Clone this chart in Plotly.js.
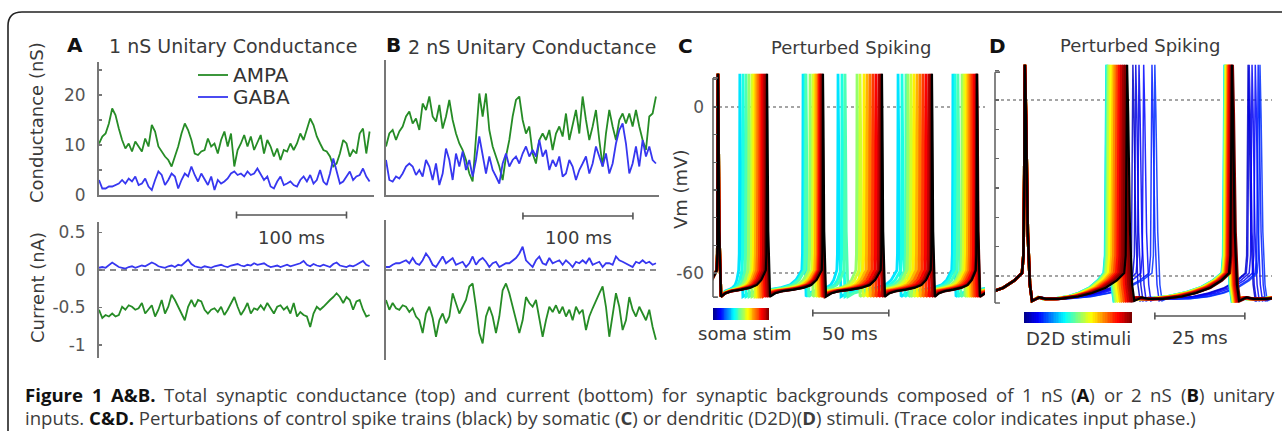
<!DOCTYPE html>
<html><head><meta charset="utf-8">
<script src="https://cdn.plot.ly/plotly-3.0.1.min.js"></script>
<style>html,body{margin:0;padding:0;background:#fff;}#fig{width:1282px;height:431px;}</style>
</head><body><div id="fig"></div>
<script>
// ================= DATA =================
// Panel A (1 nS unitary), sampled every dtA ms
const dtA = 3;
const gAmpaA = [10.3,11.7,12.3,14.3,17.3,16,13.3,11,9.3,10.3, 8.7,10.7,9.7,8.7,11.3,9.7,14,12.7,9.7,8.7, 7.7,7,5.7,7.7,9.7,12.3,14.3,13,11,8.3, 8,8.7,9,11.3,9.7,10.3,8.3,11,12.7,9.7, 12.3,5.7,9,10.3,12,9.7,11.7,9,10.7,12, 8.3,11,9.7,7.7,9.3,7,9,8.7,10.3,9, 10.3,12.3,11,13.3,15.3,14,11.7,10.3,9,8.7, 7.7,5.7,6.3,8.3,11,10.3,7.7,9,8.3,12.3, 13.3,8.3,12.7];
const gGabaA = [3,1.3,1.3,1.7,1.7,2,2.3,3,2.3,3.3, 2.7,3.7,2,2.3,3.3,1.7,1,3,4.7,4, 2,3,4.3,3.7,1.3,3,4.3,3.7,5.7,4, 2.7,4.3,3,2,3.7,1,3,2.3,2.7,3.3, 4.3,4.7,4,4.3,3.7,4.7,4,4.3,5.3,4, 3,3.7,1.7,1.3,2.7,3.7,2,2.3,2.7,2, 1.7,3,3.7,2.7,4,2.3,3,5,2.7,2, 4.3,7.3,4.7,2.3,2.7,3.7,4.7,3,3.7,4, 5.3,3.7,2.7];
const iGabaA = [0.03,0.04,0.03,0.06,0.1,0.07,0.04,0.03,0.02,0.04, 0.05,0.03,0.04,0.06,0.05,0.07,0.1,0.08,0.05,0.04, 0.03,0.05,0.06,0.04,0.07,0.06,0.1,0.14,0.08,0.05, 0.04,0.03,0.05,0.04,0.03,0.05,0.06,0.07,0.05,0.04, 0.06,0.07,0.08,0.06,0.05,0.07,0.06,0.09,0.07,0.08, 0.09,0.06,0.04,0.05,0.06,0.04,0.05,0.07,0.05,0.06, 0.08,0.09,0.12,0.07,0.05,0.08,0.06,0.05,0.07,0.05, 0.04,0.08,0.1,0.06,0.05,0.04,0.06,0.05,0.07,0.1, 0.12,0.07,0.05];
const iAmpaA = [-0.53,-0.64,-0.6,-0.62,-0.58,-0.62,-0.6,-0.49,-0.53,-0.47, -0.49,-0.53,-0.51,-0.44,-0.58,-0.53,-0.47,-0.62,-0.53,-0.4, -0.58,-0.49,-0.33,-0.4,-0.49,-0.6,-0.67,-0.49,-0.4,-0.49, -0.4,-0.42,-0.53,-0.58,-0.53,-0.51,-0.56,-0.49,-0.6,-0.53, -0.44,-0.36,-0.49,-0.6,-0.53,-0.44,-0.58,-0.51,-0.53,-0.47, -0.53,-0.44,-0.51,-0.58,-0.49,-0.47,-0.53,-0.49,-0.58,-0.44, -0.62,-0.56,-0.6,-0.62,-0.76,-0.58,-0.49,-0.53,-0.49,-0.44, -0.4,-0.36,-0.31,-0.36,-0.44,-0.36,-0.4,-0.53,-0.42,-0.4, -0.53,-0.62,-0.6];
// Panel B (2 nS unitary)
const dtB = 3.03;
const gAmpaB = [9.7,12.3,13,11,12.7,13.7,15.7,16.7,14.3,15.3, 13,18.3,17,19.7,15.7,14.7,18,13.3,15.7,19, 15,12.3,10.3,9,7,4.3,2.7,11,20.3,15.7, 20.3,13,9.7,7.7,5.7,3,7.7,11,15.7,19, 19.7,15,12.3,13.7,8.3,6.3,11,12.3,11,13, 9,12.3,13.7,11.7,16.3,11,14.3,17,12.3,19.7, 15,11,13.7,17,11,5.7,12.3,17,13.7,11, 15,16.3,14.3,16.3,13.7,17,13.7,11,9,15.7, 16.3,19.7];
const gGabaB = [7,3,2.7,3.7,3.3,4.3,5.7,6.3,5.7,4, 5,3.7,7,5.7,3,6.3,2,4.3,9.3,7, 3,8.3,5.7,8.7,5,7,3.7,7,11.7,8.3, 4.3,7.7,5,3.7,2.3,6.3,8.3,5.7,7,7.7, 6.3,8.3,9.7,7.7,9,7.7,11,7.7,9,5, 7,5.7,7.7,3.7,4.3,7,5.7,3,5,6.3, 7.7,4.3,6.3,9.7,7.7,5.7,8.3,4.3,6.3,10.3, 13,14.3,10.3,4.3,6.3,9.7,5.7,11,7.7,9.7, 7,6.3];
const iGabaB = [0.04,0.04,0.07,0.09,0.09,0.11,0.13,0.09,0.16,0.09, 0.07,0.13,0.22,0.16,0.07,0.04,0.11,0.18,0.09,0.13, 0.16,0.07,0.09,0.11,0.04,0.09,0.18,0.07,0.13,0.16, 0.11,0.04,0.09,0.11,0.04,0.07,0.09,0.09,0.13,0.16, 0.22,0.31,0.13,0.09,0.04,0.13,0.18,0.09,0.07,0.16, 0.09,0.11,0.13,0.07,0.13,0.09,0.04,0.11,0.09,0.13, 0.09,0.16,0.07,0.09,0.11,0.04,0.09,0.09,0.07,0.18, 0.13,0.11,0.09,0.07,0.04,0.11,0.09,0.13,0.09,0.11, 0.07,0.09];
const iAmpaB = [-0.4,-0.53,-0.44,-0.51,-0.53,-0.47,-0.49,-0.56,-0.51,-0.62, -0.67,-0.84,-0.58,-0.49,-0.64,-0.89,-0.67,-0.58,-0.71,-0.62, -0.31,-0.44,-0.58,-0.49,-0.4,-0.22,-0.18,-0.49,-0.84,-0.98, -0.62,-0.49,-0.62,-0.84,-0.62,-0.27,-0.18,-0.31,-0.49,-0.67, -0.84,-0.67,-0.36,-0.44,-0.49,-0.4,-0.67,-0.89,-0.67,-0.49, -0.56,-0.47,-0.58,-0.49,-0.62,-0.53,-0.67,-0.49,-0.58,-0.53, -0.8,-0.62,-0.51,-0.4,-0.31,-0.22,-0.49,-0.89,-0.62,-0.31, -0.49,-0.8,-0.67,-0.36,-0.53,-0.62,-0.49,-0.58,-0.67,-0.53, -0.76,-0.93];
const legendNames = ['AMPA', 'GABA'];

// Panel C: spike times (ms); control (black) and perturbed traces (phase 0..1)
const cBlackSpikes = [2.6, 34.9, 71.7, 110.5, 143.4, 173.0];
const cPhase = [0.35,0.40,0.45,0.52,0.58,0.64,0.70,0.76,0.82,0.88,0.94,1.00];
const cBand1 = [17,19.1,21.1,23,25,26.3,27.6,28.9,30.3,31.6,32.9,34.2];
const cBand2 = [58.6,59.9,60.5,63.2,65.1,66.4,67.1,68.4,69.1,69.7,70.4,71.1];
const cBand3 = [81.6,84.2,86.2,94.1,96.1,98.7,100.7,102.6,104.6,106.6,108.6,109.9];
const cBand4 = [121.1,123.7,126.3,127.6,129.6,131.6,133.6,135.5,137.5,139.5,141.4,142.8];
const cBand5 = [157.2,158.6,160.5,163.2,164.5,165.8,167.1,168.4,169.7,171.1,172.4,173.0];
// Panel D
const dBlackSpikes = [8.3, 36.7, 65.8];
const dPhaseAdv = [0.35,0.42,0.50,0.56,0.62,0.68,0.74,0.80,0.86,0.92,0.97,1.00];
const dAdvBand1 = [31.0,31.1,31.4,31.7,32.2,32.8,33.3,33.9,34.5,35.1,35.7,36.2];
const dAdvBand2 = [63.8,63.9,64.0,64.1,64.3,64.5,64.7,64.9,65.1,65.4,65.7,66.0];
const dPhaseDel = [0.06,0.09,0.11,0.13,0.15,0.17];
const dDelBand1 = [38.3,39.1,40.0,41.3,43.6,44.4];
const dDelBand2 = [70.3,70.6,71.4,72.3,73.1,73.6];
// waveform shapes (ms after peak, mV)
const spikeT = [-0.8,-0.4,-0.15,0,0.3,0.8,1.4,2.0];
const spikeV = [-59,-53,-25,12,-5,-45,-63,-68.5];
const cIsiF = [0,0.1,0.25,0.45,0.65,0.8,0.9,1];
const cIsiV = [-68.5,-67.3,-66.5,-66,-65.3,-64.3,-62.5,-59];
const dIsiF = [0,0.08,0.15,0.3,0.5,0.65,0.8,0.92,1];
const dIsiV = [-68.5,-67.3,-67.8,-67.8,-67,-65.8,-64,-61.5,-59];
const vmRefLevels = [0, -60];
const vmTicks = [-60,-50,-40,-30,-20,-10,0,10];
const cTickText = ['-60','','','','','','0',''];
const scaleAB = 100, scaleC = 50, scaleD = 25;
const cbarLevels = Array.from({length:64}, (_, i) => i/63);

// ================= HELPERS =================
const W = 1282, H = 431;
const PX = x => x / W, PY = y => 1 - y / H;
const FONT = 'DejaVu Sans';
const jetStops = [[0,[0,0,143]],[0.125,[0,0,255]],[0.375,[0,255,255]],[0.625,[255,255,0]],[0.875,[255,0,0]],[1,[128,0,0]]];
function jet(v){
  for (let k = 1; k < jetStops.length; k++){
    if (v <= jetStops[k][0]){
      const [a, ca] = jetStops[k-1], [b, cb] = jetStops[k];
      const f = (v - a) / (b - a);
      return 'rgb(' + ca.map((c, j) => Math.round(c + (cb[j] - c) * f)).join(',') + ')';
    }
  }
  return 'rgb(128,0,0)';
}
const jetScale = jetStops.map(s => [s[0], 'rgb(' + s[1].join(',') + ')']);

function buildVm(spikes, isiF, isiV, segLen){
  const t = [], v = [];
  const onset = spikeT[0], trough = spikeT[spikeT.length-1];
  const ramp = (a, b) => { for (let k = 0; k < isiF.length; k++){ t.push(a + (b - a) * isiF[k]); v.push(isiV[k]); } };
  ramp(spikes[0] + onset - segLen, spikes[0] + onset);
  spikes.forEach((s, j) => {
    for (let k = 1; k < spikeT.length; k++){ t.push(s + spikeT[k]); v.push(spikeV[k]); }
    const next = j < spikes.length - 1 ? spikes[j+1] + onset : s + trough + segLen;
    ramp(s + trough, next);
  });
  return {t, v};
}

// ================= TRACES =================
const GREEN = 'rgb(38,140,38)', BLUE = 'rgb(55,55,240)';
const LW = 1.8;
const tA = gAmpaA.map((_, i) => i * dtA);
const tB = gAmpaB.map((_, i) => i * dtB);
const traces = [];
const line = (x, y, xa, ya, color) => ({x, y, xaxis:xa, yaxis:ya, type:'scatter', mode:'lines', line:{color, width:LW}, showlegend:false});
traces.push(line(tA, gAmpaA, 'x', 'y', GREEN));
traces.push(line(tA, gGabaA, 'x', 'y', BLUE));
traces.push(line(tA, iGabaA, 'x2', 'y2', BLUE));
traces.push(line(tA, iAmpaA, 'x2', 'y2', GREEN));
traces.push(line(tB, gAmpaB, 'x3', 'y3', GREEN));
traces.push(line(tB, gGabaB, 'x3', 'y3', BLUE));
traces.push(line(tB, iGabaB, 'x4', 'y4', BLUE));
traces.push(line(tB, iAmpaB, 'x4', 'y4', GREEN));

// Panel C
cPhase.forEach((p, i) => {
  const sp = [cBlackSpikes[0], cBand1[i], cBand2[i], cBand3[i], cBand4[i], cBand5[i]];
  const w = buildVm(sp, cIsiF, cIsiV, 33);
  traces.push({x: w.t, y: w.v, xaxis:'x5', yaxis:'y5', type:'scatter', mode:'lines', line:{color: jet(p), width:2.8}, showlegend:false});
});
{ const w = buildVm(cBlackSpikes, cIsiF, cIsiV, 33);
  traces.push({x: w.t, y: w.v, xaxis:'x5', yaxis:'y5', type:'scatter', mode:'lines', line:{color:'#000', width:2.2}, showlegend:false}); }

// Panel D
dPhaseDel.forEach((p, i) => {
  const w = buildVm([dBlackSpikes[0], dDelBand1[i], dDelBand2[i]], dIsiF, dIsiV, 26);
  traces.push({x: w.t, y: w.v, xaxis:'x6', yaxis:'y6', type:'scatter', mode:'lines', opacity:0.85, line:{color: jet(p), width:1.5}, showlegend:false});
});
dPhaseAdv.forEach((p, i) => {
  const w = buildVm([dBlackSpikes[0], dAdvBand1[i], dAdvBand2[i]], dIsiF, dIsiV, 26);
  traces.push({x: w.t, y: w.v, xaxis:'x6', yaxis:'y6', type:'scatter', mode:'lines', line:{color: jet(p), width:2.8}, showlegend:false});
});
{ const w = buildVm(dBlackSpikes, dIsiF, dIsiV, 26);
  traces.push({x: w.t, y: w.v, xaxis:'x6', yaxis:'y6', type:'scatter', mode:'lines', line:{color:'#000', width:2.2}, showlegend:false}); }

// colour bars
traces.push({type:'heatmap', z:[cbarLevels], xaxis:'x7', yaxis:'y7', colorscale: jetScale, zmin:0, zmax:1, showscale:false, hoverinfo:'skip'});
traces.push({type:'heatmap', z:[cbarLevels], xaxis:'x8', yaxis:'y8', colorscale: jetScale, zmin:0, zmax:1, showscale:false, hoverinfo:'skip'});

// ================= LAYOUT =================
const AX = '#777';
const hiddenX = {showline:true, linecolor:AX, linewidth:2, showticklabels:false, ticks:'', showgrid:false, zeroline:false, fixedrange:true};
const hidden = {visible:false, showgrid:false, zeroline:false, fixedrange:true};
const tickFont = {family: FONT, size: 17, color: '#555'};

const layout = {
  width: W, height: H, margin: {l:0, r:0, t:0, b:0},
  paper_bgcolor: '#fff', plot_bgcolor: 'rgba(0,0,0,0)',
  showlegend: false,
  xaxis:  Object.assign({}, hiddenX, {domain:[PX(99), PX(374)], range:[0, 250], anchor:'y'}),
  yaxis:  {domain:[PY(195), PY(62)], range:[0, 26.6], anchor:'x', showline:true, linecolor:AX, linewidth:2,
           tickvals:[0,5,10,15,20,25], ticktext:['0','','10','','20',''], ticks:'inside', ticklen:3, tickcolor:AX, tickwidth:1.5,
           tickfont: tickFont, ticklabelstandoff: 8, showgrid:false, zeroline:false, fixedrange:true},
  xaxis2: Object.assign({}, hidden, {domain:[PX(99), PX(374)], range:[0, 250], anchor:'y2'}),
  yaxis2: {domain:[PY(358), PY(222)], range:[-1.173, 0.64], anchor:'x2', showline:true, linecolor:AX, linewidth:2,
           tickvals:[-1,-0.5,0,0.5], ticktext:['-1','-0.5','0','0.5'], ticks:'inside', ticklen:3, tickcolor:AX, tickwidth:1.5,
           tickfont: tickFont, ticklabelstandoff: 8, showgrid:false, zeroline:false, fixedrange:true},
  xaxis3: Object.assign({}, hiddenX, {domain:[PX(386), PX(659)], range:[0, 248.2], anchor:'y3'}),
  yaxis3: {domain:[PY(195), PY(60)], range:[0, 27], anchor:'x3', showline:true, linecolor:AX, linewidth:2,
           showticklabels:false, ticks:'', showgrid:false, zeroline:false, fixedrange:true},
  xaxis4: Object.assign({}, hidden, {domain:[PX(386), PX(659)], range:[0, 248.2], anchor:'y4'}),
  yaxis4: {domain:[PY(360), PY(220)], range:[-1.2, 0.667], anchor:'x4', showline:true, linecolor:AX, linewidth:2,
           showticklabels:false, ticks:'', showgrid:false, zeroline:false, fixedrange:true},
  xaxis5: Object.assign({}, hidden, {domain:[PX(713), PX(985)], range:[-0.66, 178.3], anchor:'y5'}),
  yaxis5: {domain:[PY(299.3), PY(69.6)], range:[-69.5, 13.5], anchor:'x5', showline:false,
           tickvals: vmTicks, ticktext: cTickText, ticks:'inside', ticklen:4, tickcolor:'#666', tickwidth:1.5,
           tickfont: tickFont, ticklabelstandoff: 8, showgrid:false, zeroline:false, fixedrange:true},
  xaxis6: Object.assign({}, hidden, {domain:[PX(995), PX(1272)], range:[0, 76.94], anchor:'y6'}),
  yaxis6: {domain:[PY(304.7), PY(61.9)], range:[-69.8, 13], anchor:'x6', showline:false,
           tickvals: vmTicks, ticktext: vmTicks.map(() => ''), ticks:'inside', ticklen:4, tickcolor:'#666', tickwidth:1.5,
           showgrid:false, zeroline:false, fixedrange:true},
  xaxis7: Object.assign({}, hidden, {domain:[PX(713), PX(769)], anchor:'y7'}),
  yaxis7: Object.assign({}, hidden, {domain:[PY(320), PY(308)], anchor:'x7'}),
  xaxis8: Object.assign({}, hidden, {domain:[PX(1024), PX(1132)], anchor:'y8'}),
  yaxis8: Object.assign({}, hidden, {domain:[PY(323), PY(312)], anchor:'x8'}),
  shapes: [], annotations: []
};

// border (rounded frame)
const r = 14, bx = 8, by = 12;
const P = (x, y) => PX(x).toFixed(5) + ',' + PY(y).toFixed(5);
layout.shapes.push({type:'path', xref:'paper', yref:'paper', layer:'above',
  path: 'M' + P(bx, H + 10) + ' L' + P(bx, by + r) + ' Q' + P(bx, by) + ' ' + P(bx + r, by) + ' L' + P(W + 10, by),
  line:{color:'#222', width:1.6}});

// zero dashed lines in current panels
[['x2','y2'],['x4','y4']].forEach(([xa, ya]) => layout.shapes.push({type:'line', xref: xa + ' domain', yref: ya, x0:0, x1:1, y0:0, y1:0, layer:'below',
  line:{color:'#666', width:1.5, dash:'6px,5px'}}));
// dotted Vm reference lines
[['x5','y5'],['x6','y6']].forEach(([xa, ya]) => vmRefLevels.forEach(lv => layout.shapes.push({type:'line', xref: xa + ' domain', yref: ya, x0:0, x1:1, y0:lv, y1:lv, layer:'below',
  line:{color:'#888', width:1.5, dash:'dot'}})));
// brackets for Vm axes
function bracket(xa, ya, y0, y1){
  const c = {color:'#666', width:1.6};
  layout.shapes.push({type:'line', xref: xa + ' domain', yref: ya, x0:0, x1:0, y0, y1, line:c});
  layout.shapes.push({type:'line', xref: xa + ' domain', yref: ya, x0:0, x1:0.018, y0:y0, y1:y0, line:c});
  layout.shapes.push({type:'line', xref: xa + ' domain', yref: ya, x0:0, x1:0.018, y0:y1, y1:y1, line:c});
}
bracket('x5','y5', -68.7, 10.5);
bracket('x6','y6', -69.2, 9.5);
// scale bars
function scaleBar(xa, x0, len, ypx){
  const c = {color:'#555', width:1.6};
  const y = PY(ypx), h = 3.5 / H;
  layout.shapes.push({type:'line', xref: xa, yref:'paper', x0, x1: x0 + len, y0: y, y1: y, line:c});
  layout.shapes.push({type:'line', xref: xa, yref:'paper', x0, x1: x0, y0: y - h, y1: y + h, line:c});
  layout.shapes.push({type:'line', xref: xa, yref:'paper', x0: x0 + len, x1: x0 + len, y0: y - h, y1: y + h, line:c});
}
scaleBar('x', 125, scaleAB, 215);
scaleBar('x3', 124.5, scaleAB, 216);
scaleBar('x5', 65, scaleC, 313);
scaleBar('x6', 44.4, scaleD, 316);

// texts
function txt(text, x, y, o){
  layout.annotations.push(Object.assign({text, x: PX(x), y: PY(y), xref:'paper', yref:'paper', showarrow:false,
    xanchor:'center', yanchor:'middle', font:{family: FONT, size: 19, color:'#3a3a3a'}}, o || {}));
}
// legend (AMPA / GABA) in panel A
[[legendNames[0], GREEN, 75], [legendNames[1], BLUE, 97]].forEach(([nm, col, ypx]) => {
  layout.shapes.push({type:'line', xref:'paper', yref:'paper', x0: PX(198), x1: PX(228), y0: PY(ypx), y1: PY(ypx), line:{color: col, width: LW}});
  txt(nm, 231, ypx, {xanchor:'left', font:{family: FONT, size: 20, color:'#333'}});
});
const bold = {font:{family: FONT, size: 20, color:'#111'}};
const f18 = {font:{family: FONT, size: 18, color:'#3a3a3a'}};
txt('<b>A</b>', 75, 45, bold);
txt('<b>B</b>', 393, 45, bold);
txt('<b>C</b>', 685, 46, bold);
txt('<b>D</b>', 997, 46, bold);
txt('1 nS Unitary Conductance', 233, 46);
txt('2 nS Unitary Conductance', 532, 47);
txt('Perturbed Spiking', 851, 47, f18);
txt('Perturbed Spiking', 1140, 46, f18);
txt('Conductance (nS)', 37, 123, Object.assign({textangle:-90}, f18));
txt('Current (nA)', 37, 288, Object.assign({textangle:-90}, f18));
txt('Vm (mV)', 680, 190, Object.assign({textangle:-90}, f18));
txt('100 ms', 291, 237, f18);
txt('100 ms', 578, 237, f18);
txt('50 ms', 850, 333, f18);
txt('25 ms', 1200, 337, f18);
txt('soma stim', 745, 333, f18);
txt('D2D stimuli', 1078, 338, f18);

// caption (line 1 is justified word by word, as in the reference)
const CAP_SIZE = 18.6, CAP_FAM = 'Open Sans', CAP_COL = '#3c3c3c';
const cap1Words = ['<b>Figure</b>','<b>1</b>','<b>A&B.</b>','Total','synaptic','conductance','(top)','and','current','(bottom)','for','synaptic','backgrounds','composed','of','1','nS','(<b>A</b>)','or','2','nS','(<b>B</b>)','unitary'];
const ctx = document.createElement('canvas').getContext('2d');
function wordWidth(wd){
  let w = 0;
  wd.split(/(<b>.*?<\/b>)/).filter(s => s).forEach(part => {
    const isB = part.startsWith('<b>');
    ctx.font = (isB ? 'bold ' : '') + CAP_SIZE + 'px "' + CAP_FAM + '"';
    w += ctx.measureText(part.replace(/<\/?b>/g, '')).width;
  });
  return w;
}
const capX0 = 24, capX1 = 1273;
const widths = cap1Words.map(wordWidth);
const gap = (capX1 - capX0 - widths.reduce((a, b) => a + b, 0)) / (cap1Words.length - 1);
let cx = capX0;
cap1Words.forEach((wd, i) => {
  txt(wd.replace(/&/g, '&amp;').replace(/<b>/g, '<b style="color:#111">'), cx - 1, 394,
      {xanchor:'left', align:'left', font:{family: CAP_FAM, size: CAP_SIZE, color: CAP_COL}});
  cx += widths[i] + gap;
});
txt('inputs. <b style="color:#111">C&amp;D.</b> Perturbations of control spike trains (black) by somatic (<b>C</b>) or dendritic (D2D)(<b>D</b>) stimuli. (Trace color indicates input phase.)',
    capX0 - 1, 417, {xanchor:'left', align:'left', font:{family: CAP_FAM, size: CAP_SIZE, color: CAP_COL}});

Plotly.newPlot('fig', traces, layout, {staticPlot: true, displayModeBar: false});
</script></body></html>
